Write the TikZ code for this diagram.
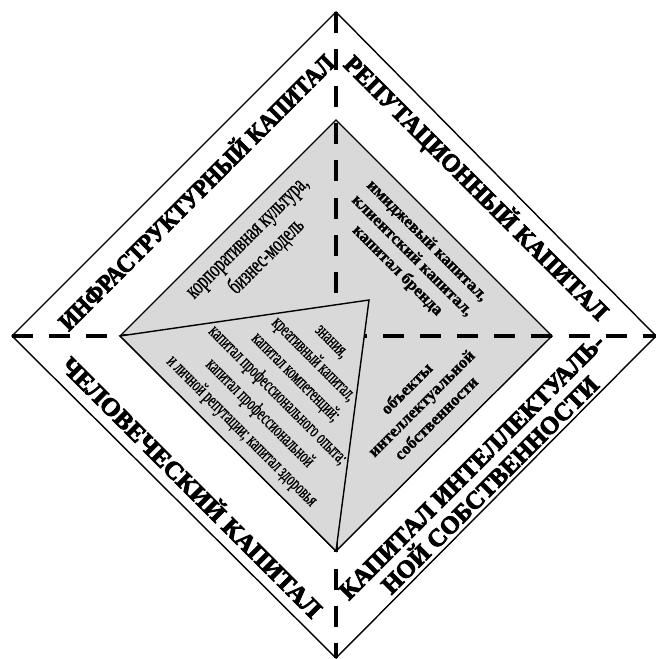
\documentclass[tikz,border=0pt]{standalone}
\usepackage{fontspec}
\setmainfont{Liberation Serif}
\newfontfamily\condfont[FakeStretch=0.65,FakeBold=0.8]{Liberation Serif}
\newfontfamily\condtri[FakeStretch=0.62,FakeBold=0.8]{Liberation Serif}
\newfontfamily\heavyfont[FakeStretch=0.9,FakeBold=3.2]{Liberation Serif}
\newfontfamily\semiheavy[FakeBold=1.2]{Liberation Serif}
\definecolor{fillgray}{RGB}{217,217,217}
\begin{document}
\begin{tikzpicture}[x=1bp,y=-1bp,
  border/.style={line width=1.4bp, line join=miter},
  divider/.style={line width=4bp, dash pattern=on 21bp off 16.1bp},
  biglabel/.style={font=\heavyfont\bfseries\fontsize{25}{26}\selectfont, align=center, inner sep=0pt},
  condtext/.style={font=\condfont\fontsize{24}{27}\selectfont, align=center, inner sep=0pt},
  condsmall/.style={font=\condtri\fontsize{20}{25.5}\selectfont, align=center, inner sep=0pt},
  boldsmall/.style={font=\semiheavy\bfseries\fontsize{17}{21}\selectfont, align=center, inner sep=0pt}]
\useasboundingbox (0,0) rectangle (656,659);
% vertices
\coordinate (oL) at (12,336);
\coordinate (oT) at (336,12);
\coordinate (oR) at (656,336);
\coordinate (oB) at (336,658);
\coordinate (iL) at (120,336);
\coordinate (iT) at (336,120);
\coordinate (iR) at (552,336);
\coordinate (iB) at (336,551);
\coordinate (tR) at (369,300);
% outer diamond
\draw[border, fill=white] (oL) -- (oT) -- (oR) -- (oB) -- cycle;
% inner diamond
\draw[border, fill=fillgray] (iL) -- (iT) -- (iR) -- (iB) -- cycle;
% dashed dividers
\draw[divider] (oT) -- (oB);
\draw[divider] (oL) -- (oR);
% triangle
\draw[border, fill=fillgray] (iL) -- (tR) -- (iB) -- cycle;
% labels
\node[biglabel, rotate=45] (infra) at (195,191) {ИНФРАСТРУКТУРНЫЙ КАПИТАЛ};
\node[biglabel, rotate=-45] (reput) at (476,188) {\scalebox{1.07}[1]{РЕПУТАЦИОННЫЙ КАПИТАЛ}};
\node[biglabel, rotate=-45] (human) at (193,486) {\scalebox{1.14}[1]{ЧЕЛОВЕЧЕСКИЙ КАПИТАЛ}};
\node[biglabel, rotate=45] (intel) at (483,478) {\scalebox{1.1}[1]{\begin{tabular}{@{}c@{}}КАПИТАЛ ИНТЕЛЛЕКТУАЛЬ-\\[-3pt]НОЙ СОБСТВЕННОСТИ\end{tabular}}};
\node[condtext, rotate=45] (corp) at (259,249) {корпоративная культура,\\бизнес-модель};
\node[boldsmall, rotate=-45] (image) at (412,256) {имиджевый капитал,\\клиентский капитал,\\капитал бренда};
\node[boldsmall, rotate=45] (objects) at (421,403) {объекты\\интеллектуальной\\собственности};
\node[condsmall, rotate=-45] (know) at (285,388) {знания,\\креативный капитал,\\капитал компетенций;\\капитал профессионального опыта;\\капитал профессиональной\\и личной репутации; капитал здоровья};
\end{tikzpicture}
\end{document}
